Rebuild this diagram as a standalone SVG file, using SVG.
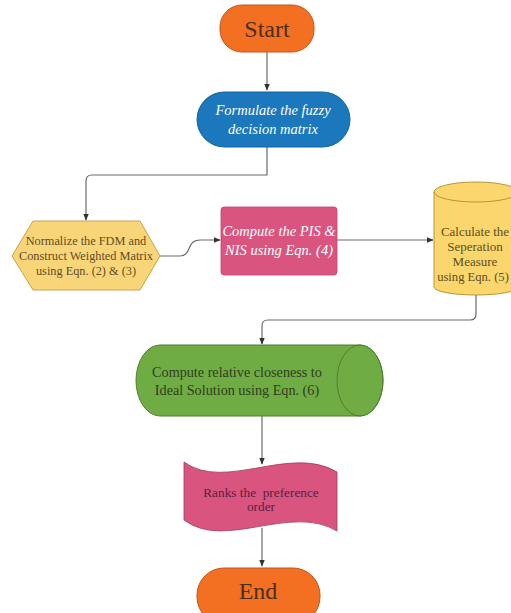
<svg xmlns="http://www.w3.org/2000/svg" width="511" height="613" viewBox="0 0 511 613">
<defs>
<style>
.t{font-family:"Liberation Serif","DejaVu Serif",serif;text-anchor:middle}
.it{font-style:italic;fill:#ffffff;font-size:14.5px}
.ln{fill:none;stroke:#6a6a6a;stroke-width:1.2}
</style>
<marker id="ah" viewBox="0 0 10 10" refX="9" refY="5" markerWidth="7" markerHeight="7" orient="auto" markerUnits="userSpaceOnUse">
<path d="M0,1 L10,5 L0,9 Z" fill="#333"/>
</marker>
</defs>
<rect width="511" height="613" fill="#ffffff"/>
<g id="connectors">
<path class="ln" d="M267,52 V90" marker-end="url(#ah)"/>
<path class="ln" d="M267,147 V175 H92 Q86,175 86,181 V220" marker-end="url(#ah)"/>
<path class="ln" d="M160,256 H180 C192,256 186,240 200,240 H220" marker-end="url(#ah)"/>
<path class="ln" d="M337,240 H433" marker-end="url(#ah)"/>
<path class="ln" d="M476,294 V314 Q476,320 470,320 H268 Q262,320 262,326 V344" marker-end="url(#ah)"/>
<path class="ln" d="M262,416 V464" marker-end="url(#ah)"/>
<path class="ln" d="M262,528 V566" marker-end="url(#ah)"/>
</g>
<g id="start">
<rect x="220" y="5" width="94" height="47" rx="22" fill="#f36f21" stroke="#c4561a" stroke-width="1"/>
<text class="t" x="267" y="37" font-size="24" fill="#4a2f1e">Start</text>
</g>
<g id="formulate">
<rect x="197" y="92" width="153" height="55" rx="27.5" fill="#1b78bd" stroke="#15639c" stroke-width="1"/>
<text class="t it" x="273" y="115">Formulate the fuzzy</text>
<text class="t it" x="273" y="134">decision matrix</text>
</g>
<g id="normalize">
<polygon points="12,256 33,221 140,221 160,256 140,290 33,290" fill="#f9d57a" stroke="#c9a24a" stroke-width="1"/>
<text class="t" x="86" y="245" font-size="12.3" fill="#5e4e22">Normalize the FDM and</text>
<text class="t" x="86" y="260" font-size="12.3" fill="#5e4e22">Construct Weighted Matrix</text>
<text class="t" x="86" y="275" font-size="12.3" fill="#5e4e22">using Eqn. (2) &amp; (3)</text>
</g>
<g id="pis">
<rect x="221" y="207" width="116" height="68" rx="3" fill="#d9557f" stroke="#c24570" stroke-width="0.8"/>
<text class="t it" x="279" y="236">Compute the PIS &amp;</text>
<text class="t it" x="279" y="255">NIS using Eqn. (4)</text>
</g>
<g id="separation">
<path d="M434,192 A42,10 0 0 1 518,192 V287 A42,8 0 0 1 434,287 Z" fill="#fad66c" stroke="#b8963a" stroke-width="1"/>
<path d="M434,192 A42,10 0 0 0 518,192" fill="none" stroke="#b8963a" stroke-width="1"/>
<text class="t" x="475" y="236" font-size="13" fill="#5e4e22">Calculate the</text>
<text class="t" x="475" y="251" font-size="13" fill="#5e4e22">Seperation</text>
<text class="t" x="475" y="266" font-size="13" fill="#5e4e22">Measure</text>
<text class="t" x="473" y="281" font-size="12.6" fill="#5e4e22">using Eqn. (5)</text>
</g>
<g id="closeness">
<path d="M160,345 H360 A23,35.5 0 0 1 360,416 H160 A24,35.5 0 0 1 160,345 Z" fill="#70ac44" stroke="#4f7f2e" stroke-width="1"/>
<ellipse cx="360" cy="380.5" rx="23" ry="35.5" fill="none" stroke="#4f7f2e" stroke-width="1"/>
<text class="t" x="237" y="377" font-size="14.2" fill="#2f3d1c">Compute relative closeness to</text>
<text class="t" x="237" y="395" font-size="14.2" fill="#2f3d1c">Ideal Solution using Eqn. (6)</text>
</g>
<g id="ranks">
<path d="M184,462 C225,492 290,444 337,472 V531 C290,503 225,551 184,520 Z" fill="#d9557f" stroke="#9a3e5c" stroke-width="0.8"/>
<text class="t" x="261" y="497" font-size="13.3" fill="#5a2040" xml:space="preserve" style="white-space:pre">Ranks the  preference</text>
<text class="t" x="261" y="511" font-size="13.3" fill="#5a2040">order</text>
</g>
<g id="end">
<rect x="197" y="568" width="123" height="56" rx="27" fill="#f36f21" stroke="#c4561a" stroke-width="1"/>
<text class="t" x="258" y="599" font-size="24" fill="#4a2f1e">End</text>
</g>
</svg>
